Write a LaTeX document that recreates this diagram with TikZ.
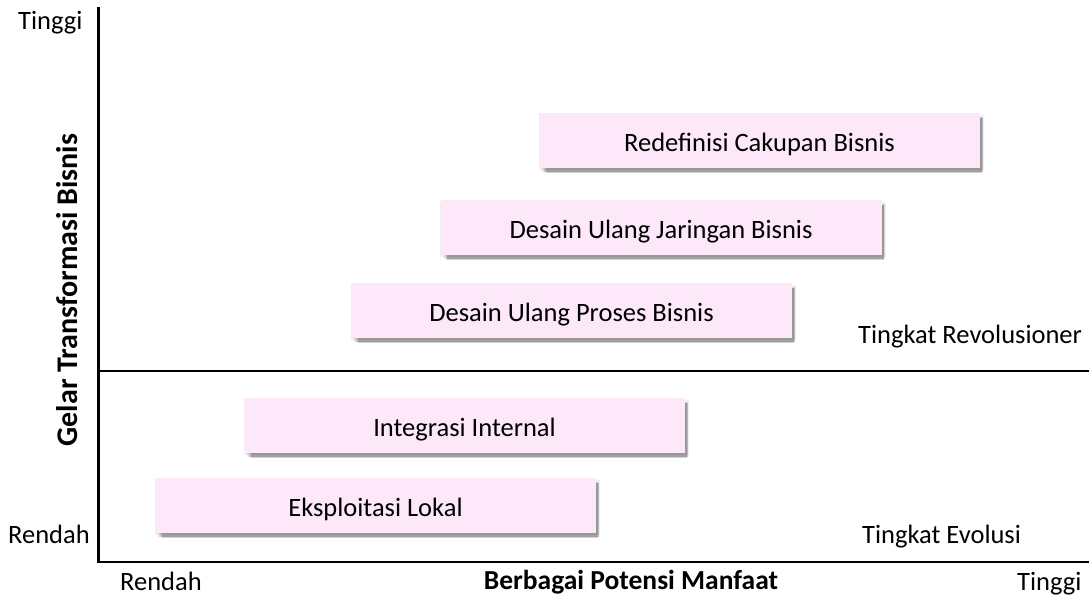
\documentclass[tikz,border=0pt]{standalone}
\usepackage{fontspec}
\setmainfont{Carlito}
\usetikzlibrary{shadows}
\definecolor{boxpink}{RGB}{252,232,248}
\begin{document}
\begin{tikzpicture}[x=1pt,y=-1pt,
  lbl/.style={font=\fontsize{26.5}{30}\selectfont,inner sep=0pt,anchor=base west},
  ttl/.style={font=\fontsize{27.5}{31}\selectfont\bfseries,inner sep=0pt,anchor=base},
  axisline/.style={line width=2.4pt,black},
  box/.style={fill=boxpink,minimum width=441pt,minimum height=55pt,inner sep=0pt,
    font=\fontsize{26.5}{30}\selectfont,text height=22pt,text depth=0pt,
    general shadow={fill=black,opacity=0.06,shadow xshift=2pt,shadow yshift=-2pt,
      shadow scale=1.01},
    general shadow={fill=black,opacity=0.10,shadow xshift=3pt,shadow yshift=-3.5pt},
    general shadow={fill=black,opacity=0.14,shadow xshift=4pt,shadow yshift=-4.5pt,
      shadow scale=0.995},
    general shadow={fill=black,opacity=0.18,shadow xshift=4.5pt,shadow yshift=-5pt,
      shadow scale=0.99}}
]
\useasboundingbox (0,0) rectangle (1089,595);

% axes
\coordinate (top) at (98.5,7);
\coordinate (origin) at (98.5,562);
\coordinate (right) at (1089,562);
\coordinate (midl) at (97.5,371);
\coordinate (midr) at (1089,371);
\draw[axisline] (top) -- (origin) -- (right);
\draw[axisline] (midl) -- (midr);

% axis labels
\node[lbl] (ytop) at (18,29) {Tinggi};
\node[lbl] (ybot) at (8,543) {Rendah};
\node[lbl] (xlow) at (120,590) {Rendah};
\node[lbl] (xhigh) at (1017,590) {Tinggi};
\node[ttl] (xtitle) at (631,589) {Berbagai Potensi Manfaat};
\node[ttl,font=\fontsize{30}{34}\selectfont\bfseries,rotate=90] (ytitle) at (77,290)
  {Gelar Transformasi Bisnis};

% levels
\node[lbl] (rev) at (858,343) {Tingkat Revolusioner};
\node[lbl] (evo) at (862,543) {Tingkat Evolusi};

% stages
\node[box] (b1) at (759.5,140.5) {Redefinisi Cakupan Bisnis};
\node[box] (b2) at (661,227.5) {Desain Ulang Jaringan Bisnis};
\node[box] (b3) at (571.5,310.5) {Desain Ulang Proses Bisnis};
\node[box] (b4) at (464.5,425.5) {Integrasi Internal};
\node[box] (b5) at (375.5,505.5) {Eksploitasi Lokal};
\end{tikzpicture}
\end{document}
